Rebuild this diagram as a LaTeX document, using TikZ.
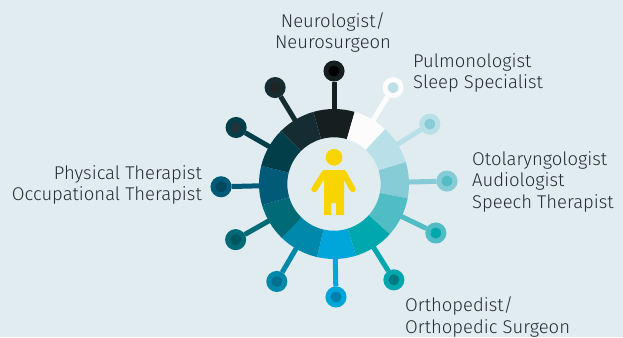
\documentclass[tikz,border=0pt]{standalone}
\usepackage{fontspec}
\usetikzlibrary{calc}
\setmainfont{Fira Sans Light}
\definecolor{bgc}{HTML}{E1ECF1}
\definecolor{txt}{HTML}{232C31}
\definecolor{kid}{HTML}{F8D500}
\tikzset{
  x=1pt,y=-1pt,
  lbl/.style={text=txt,font=\fontsize{18.45}{21.5}\selectfont,inner sep=0pt},
  pinhead/.style={circle,draw=#1,line width=5pt,minimum size=16pt,inner sep=0pt},
  pinline/.style={draw=#1,line width=5pt},
  seg/.style={fill=#1,draw=none}
}
\begin{document}
\begin{tikzpicture}
\useasboundingbox[fill=bgc] (0,0) rectangle (623,337);
\coordinate (c) at (334,184);
\foreach \name/\a/\b/\p/\col/\core in {
 n1/106/74/90/161F20/000000,
 n2/74/47/58.5/FCFCFC/BCDFE8,
 n3/47/17/32/B9DFE8/8ACCD6,
 n4/17/-11/1.5/86CCD6/52BEC4,
 n5/-11/-42/-25.7/50BCC3/00A8AE,
 n6/-42/-73/-58/00A7AC/007B82,
 n7/-73/-103/-89/00A5DA/0080AE,
 n8/-103/-134/-120.4/0088AA/007090,
 n9/-134/-163.5/-150.5/006A77/005560,
 n10/-163.5/-194/-178.6/005A78/00485C,
 n11/-194/-225/-210/003F4A/1F3338,
 n12/-225/-254/-238.6/152C33/1F2525}{
  \definecolor{segc}{HTML}{\col}
  \definecolor{corec}{HTML}{\core}
  \node[pinhead=segc,fill=corec] (\name) at ($(c)+(\p:113 and -113)$) {};
  \coordinate (\name r) at ($(c)+(\p:74 and -74)$);
  \draw[pinline=segc] (\name r) -- (\name);
  \fill[seg=segc] ($(c)+(\a:75 and -75)$) arc[start angle=-\a,end angle=-\b,radius=75]
     -- ($(c)+(\b:46.7 and -46.7)$) arc[start angle=-\b,end angle=-\a,radius=46.7] -- cycle;
}
% child
\node[circle,fill=kid,minimum size=16.8pt,inner sep=0pt] (head) at (334,157.3) {};
\fill[kid] (326,170) -- (342,170) -- (344,172) -- (344,215) -- (336,215) -- (336,203) -- (331.3,203) -- (331.3,215) -- (324,215) -- (324,172) -- cycle;
\draw[kid,line width=6pt,line cap=round] (324.5,173) -- (314.3,189.3);
\draw[kid,line width=6pt,line cap=round] (343.5,173) -- (352.7,189.3);
% labels
\node[lbl,align=center,anchor=north] (t1) at (333,12) {Neurologist/\\Neurosurgeon};
\node[lbl,align=left,anchor=north west] (t2) at (413,53) {Pulmonologist\\Sleep Specialist};
\node[lbl,align=right,anchor=north east] (t3) at (202,165) {Physical Therapist\\Occupational Therapist};
\node[lbl,align=left,anchor=north west] (t4) at (472,151) {Otolaryngologist\\Audiologist\\Speech Therapist};
\node[lbl,align=left,anchor=north west] (t5) at (405,296.5) {Orthopedist/\\Orthopedic Surgeon};
\end{tikzpicture}
\end{document}
